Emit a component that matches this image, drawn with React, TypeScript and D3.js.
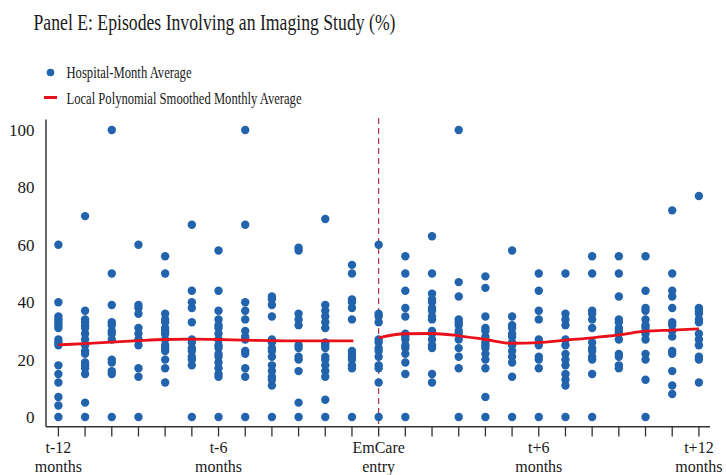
import React from "react";
import * as d3 from "d3";

const months: number[] = [-12,-11,-10,-9,-8,-7,-6,-5,-4,-3,-2,-1,0,1,2,3,4,5,6,7,8,9,10,11,12];

const hospitalMonthValues: number[][] = [
  [60, 40, 35, 34, 33, 32, 31, 27, 26, 25, 18, 15, 12, 7, 4, 0],
  [70, 37, 34, 33, 32, 31, 29, 27, 25, 23, 22, 19, 18, 17, 15, 5, 0],
  [100, 50, 39, 33, 32, 30, 29, 27, 20, 19, 16, 15, 0],
  [60, 39, 38, 36, 31, 29, 27, 25, 17, 14, 0],
  [56, 50, 36, 34, 33, 31, 30, 29, 27, 25, 24, 23, 20, 17, 12],
  [67, 44, 40, 38, 33, 27, 26, 24, 23, 21, 20, 18, 0],
  [58, 44, 37, 34, 32, 31, 29, 27, 25, 24, 22, 21, 19, 17, 15, 14, 0],
  [100, 67, 40, 37, 34, 30, 28, 27, 23, 22, 17, 14, 0],
  [42, 41, 39, 35, 27, 26, 24, 23, 21, 18, 16, 14, 13, 11, 0],
  [59, 58, 36, 34, 32, 25, 24, 21, 20, 16, 5, 0],
  [69, 39, 37, 35, 33, 31, 26, 25, 24, 21, 20, 18, 16, 14, 6, 0],
  [53, 50, 41, 40, 38, 34, 23, 22, 21, 20, 18, 17, 0],
  [60, 36, 35, 33, 27, 26, 24, 23, 21, 18, 17, 12, 0],
  [56, 50, 44, 38, 35, 29, 28, 27, 25, 24, 22, 19, 15, 0],
  [63, 50, 43, 41, 40, 38, 37, 35, 34, 30, 29, 27, 25, 24, 15, 12],
  [100, 47, 42, 34, 33, 32, 30, 29, 27, 24, 21, 17, 0],
  [49, 45, 35, 31, 30, 28, 26, 25, 24, 22, 20, 17, 7, 0],
  [58, 35, 32, 31, 29, 28, 26, 25, 23, 21, 19, 14, 0],
  [50, 44, 37, 34, 27, 25, 21, 20, 17, 0],
  [50, 36, 34, 32, 27, 25, 22, 20, 18, 15, 13, 11, 0],
  [56, 50, 37, 36, 34, 31, 26, 24, 23, 21, 20, 15, 0],
  [56, 50, 42, 34, 33, 31, 30, 29, 27, 22, 21, 18, 17],
  [56, 44, 38, 37, 34, 32, 31, 29, 27, 22, 20, 13, 0],
  [72, 50, 44, 42, 38, 33, 32, 30, 28, 23, 22, 16, 11, 8],
  [77, 38, 37, 36, 34, 33, 29, 27, 25, 21, 20, 12],
];

const smoothPreMonths: number[] = [-12,-11,-10,-9,-8,-7,-6,-5,-4,-3,-2,-0.95];
const smoothPreValues: number[] = [25.1, 25.6, 26.1, 26.6, 27.0, 27.1, 27.0, 26.8, 26.6, 26.5, 26.5, 26.5];
const smoothPostMonths: number[] = [0,1,2,3,4,5,6,7,8,9,10,11,12];
const smoothPostValues: number[] = [27.6, 29.0, 29.1, 28.3, 27.0, 25.7, 25.9, 26.8, 27.6, 28.6, 29.9, 30.3, 30.7];

const yTicks: number[] = [0, 20, 40, 60, 80, 100];
const xTickLabels: { m: number; l1: string; l2: string }[] = [
  { m: -12, l1: "t-12", l2: "months" },
  { m: -6, l1: "t-6", l2: "months" },
  { m: 0, l1: "EmCare", l2: "entry" },
  { m: 6, l1: "t+6", l2: "months" },
  { m: 12, l1: "t+12", l2: "months" },
];

const FONT = "'Liberation Serif', 'Times New Roman', Times, serif";
const DOT = "#2163ad";
const RED = "#e8101a";

export default function App() {
  const W = 726, H = 475;
  const x = d3.scaleLinear().domain([-12, 12]).range([58.4, 698.9]);
  const y = d3.scaleLinear().domain([0, 100]).range([417, 130]);
  const axisY = 426.7;
  const axisLeft = 46;
  const axisRight = 710;

  const line = d3.line<[number, number]>()
    .x(d => x(d[0]))
    .y(d => y(d[1]))
    .curve(d3.curveMonotoneX);

  const pre = line(smoothPreMonths.map((m, i) => [m, smoothPreValues[i]] as [number, number])) || "";
  const post = line(smoothPostMonths.map((m, i) => [m, smoothPostValues[i]] as [number, number])) || "";

  return (
    <svg width={W} height={H} style={{ position: "absolute", left: 0, top: 0, background: "#fff" }}>
      <rect width={W} height={H} fill="#fff" />
      <text x={33.5} y={29.5} fontFamily={FONT} fontSize={23} fill="#1a1a1a" textLength={362} lengthAdjust="spacingAndGlyphs">
        Panel E: Episodes Involving an Imaging Study (%)
      </text>

      {/* legend */}
      <circle cx={50.5} cy={72.5} r={3.8} fill={DOT} />
      <text x={66.5} y={78} fontFamily={FONT} fontSize={17.5} fill="#1a1a1a" textLength={125} lengthAdjust="spacingAndGlyphs">
        Hospital-Month Average
      </text>
      <line x1={44} x2={57} y1={97.5} y2={97.5} stroke={RED} strokeWidth={3} />
      <text x={66.5} y={103.5} fontFamily={FONT} fontSize={17.5} fill="#1a1a1a" textLength={235} lengthAdjust="spacingAndGlyphs">
        Local Polynomial Smoothed Monthly Average
      </text>

      {/* axes */}
      <line x1={axisLeft} x2={axisLeft} y1={119.5} y2={axisY} stroke="#333" strokeWidth={1.5} />
      <line x1={axisLeft} x2={axisRight} y1={axisY} y2={axisY} stroke="#333" strokeWidth={1.5} />
      {months.map(m => (
        <line key={"t" + m} x1={x(m)} x2={x(m)} y1={axisY} y2={436.5} stroke="#333" strokeWidth={1.3} />
      ))}
      {yTicks.map(t => (
        <text key={"y" + t} x={34.5} y={y(t)} dy="0.35em" textAnchor="end" fontFamily={FONT} fontSize={17} fill="#1a1a1a">
          {t}
        </text>
      ))}
      {xTickLabels.map(t => (
        <g key={"xl" + t.m}>
          <text x={x(t.m)} y={452.5} textAnchor="middle" fontFamily={FONT} fontSize={16} fill="#1a1a1a">{t.l1}</text>
          <text x={x(t.m)} y={471.5} textAnchor="middle" fontFamily={FONT} fontSize={16} fill="#1a1a1a">{t.l2}</text>
        </g>
      ))}

      {/* event line */}
      <line x1={x(0)} x2={x(0)} y1={118} y2={axisY} stroke="#a8223f" strokeWidth={1.1} strokeDasharray="6,4" />

      {/* points */}
      {hospitalMonthValues.map((vals, i) =>
        vals.map((v, j) => (
          <circle key={i + "-" + j} cx={x(months[i])} cy={y(v)} r={4.2} fill={DOT} />
        ))
      )}

      {/* smoothed lines */}
      <path d={pre} fill="none" stroke={RED} strokeWidth={2.8} />
      <path d={post} fill="none" stroke={RED} strokeWidth={2.8} />
    </svg>
  );
}
